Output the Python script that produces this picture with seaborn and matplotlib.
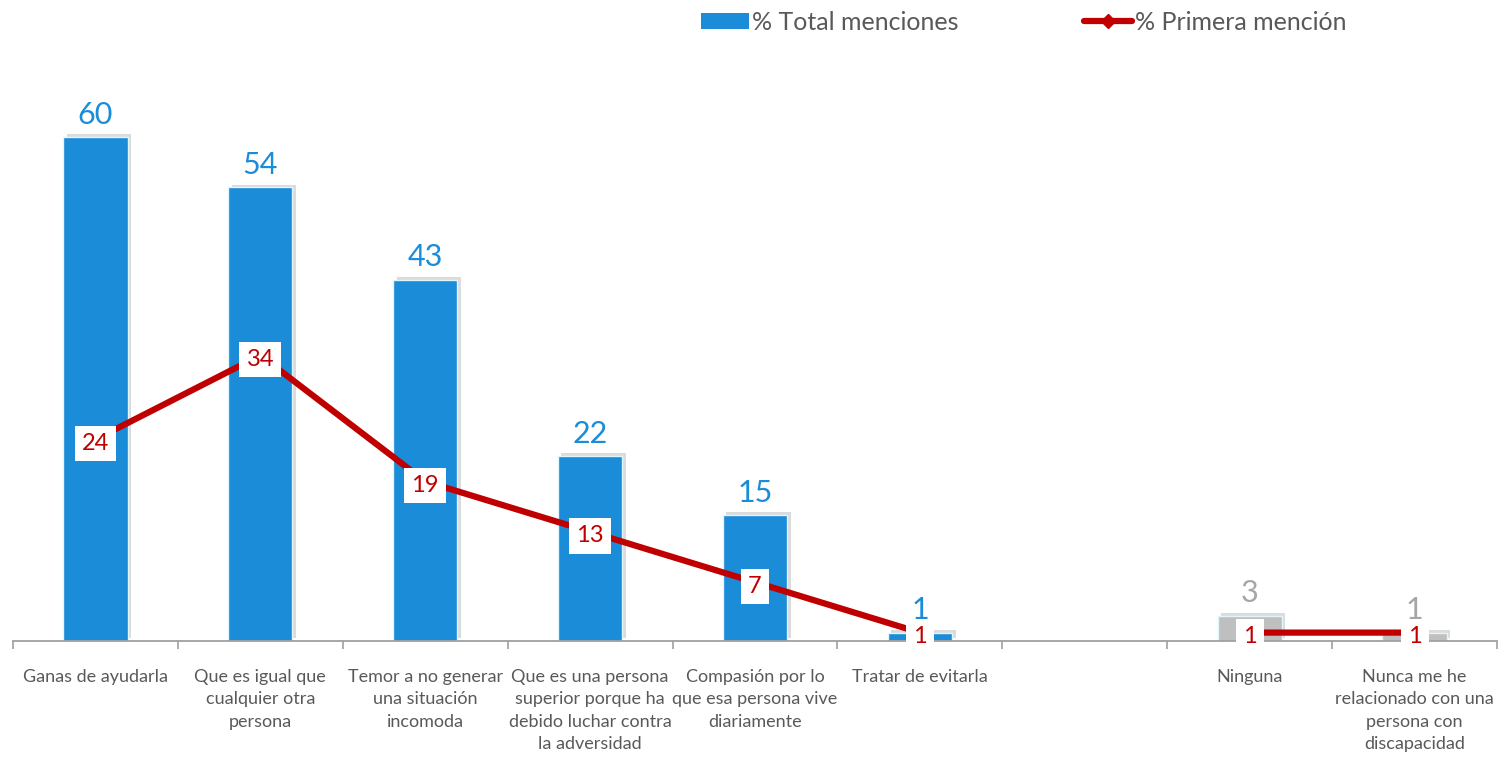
import numpy as np
import pandas as pd
import matplotlib
matplotlib.use("Agg")
import matplotlib.pyplot as plt
import matplotlib.patheffects as pe
from matplotlib.lines import Line2D
from matplotlib.patches import Patch
import seaborn as sns

# Categories (blank slot separates the two answer groups)
categories = [
    "Ganas de ayudarla",
    "Que es igual que\ncualquier otra\npersona",
    "Temor a no generar\nuna situación\nincomoda",
    "Que es una persona\nsuperior porque ha\ndebido luchar contra\nla adversidad",
    "Compasión por lo\nque esa persona vive\ndiariamente",
    "Tratar de evitarla",
    " ",
    "Ninguna",
    "Nunca me he\nrelacionado con una\npersona con\ndiscapacidad",
]
total_menciones = [60, 54, 43, 22, 15, 1, np.nan, 3, 1]
primera_mencion = [24, 34, 19, 13, 7, 1, np.nan, 1, 1]
group = ["main"] * 6 + ["none"] + ["other"] * 2

BLUE = "#1a8cd8"
GREY_BAR = "#bfbfbf"
GREY_LABEL = "#a6a6a6"
RED = "#c00000"
TEXT = "#595959"

sns.set_theme(style="white")
plt.rcParams["font.family"] = ["Lato", "DejaVu Sans"]

df = pd.DataFrame({"categoria": categories, "total": total_menciones,
                   "primera": primera_mencion, "grupo": group})
bars = df.dropna(subset=["total"])

fig = plt.figure(figsize=(15.05, 7.59), dpi=100)
ax = fig.add_axes([13 / 1505, 118 / 759, 1484 / 1505, 546 / 759])

palette = {"main": BLUE, "other": GREY_BAR}
sns.barplot(data=bars, x="categoria", y="total", hue="grupo", order=categories,
            palette=palette, dodge=False, width=0.39, legend=False, ax=ax,
            saturation=1, edgecolor="#dff6ff", linewidth=1.0)
for p in ax.patches:
    p.set_path_effects([pe.SimplePatchShadow(offset=(2.5, 2), shadow_rgbFace="#8a8a8a", alpha=0.3),
                        pe.Normal()])

x = np.arange(len(categories))
ax.plot(x, df["primera"], color=RED, lw=4.5, solid_capstyle="butt", zorder=3)

# Value labels
for xi, v, g in zip(x, df["total"], df["grupo"]):
    if np.isnan(v):
        continue
    ax.annotate(f"{v:g}", (xi, v), xytext=(0, 6), textcoords="offset points",
                ha="center", va="bottom", fontsize=22,
                color=BLUE if g == "main" else GREY_LABEL)
for xi, v in zip(x, df["primera"]):
    if np.isnan(v):
        continue
    ax.annotate(f"{v:g}", (xi, v), xytext=(0, -3), textcoords="offset points",
                ha="center", va="center", fontsize=17, color=RED, zorder=5,
                bbox=dict(boxstyle="square,pad=0.3", fc="white", ec="none"))

ax.set_xlim(-0.5, len(categories) - 0.5)
ax.set_ylim(0, 65)
ax.set_xlabel("")
ax.set_ylabel("")
ax.set_yticks([])
for s in ["top", "right", "left"]:
    ax.spines[s].set_visible(False)
ax.spines["bottom"].set_color("#a0a0a0")
ax.spines["bottom"].set_linewidth(1.3)

ax.set_xticks(x)
ax.set_xticklabels(categories, fontsize=13, color=TEXT, linespacing=1.5, va="top")
ax.set_xticks(np.arange(-0.5, len(categories) + 0.5, 1), minor=True)
ax.tick_params(axis="x", which="major", length=0, pad=20)
ax.tick_params(axis="x", which="minor", length=6, width=1.2, color="#a0a0a0", direction="out", bottom=True)

handles = [
    Patch(facecolor=BLUE, edgecolor="none", label="% Total menciones"),
    Line2D([0], [0], color=RED, lw=4.5, marker="D", markersize=7, label="% Primera mención"),
]
fig.legend(handles=handles, loc="center", bbox_to_anchor=(1024 / 1505, 1 - 22 / 759),
           ncol=2, frameon=False, fontsize=18, labelcolor=TEXT, columnspacing=5.0,
           handlelength=1.9, handleheight=0.6, handletextpad=0.15)

fig.savefig("out.png", dpi=100)
